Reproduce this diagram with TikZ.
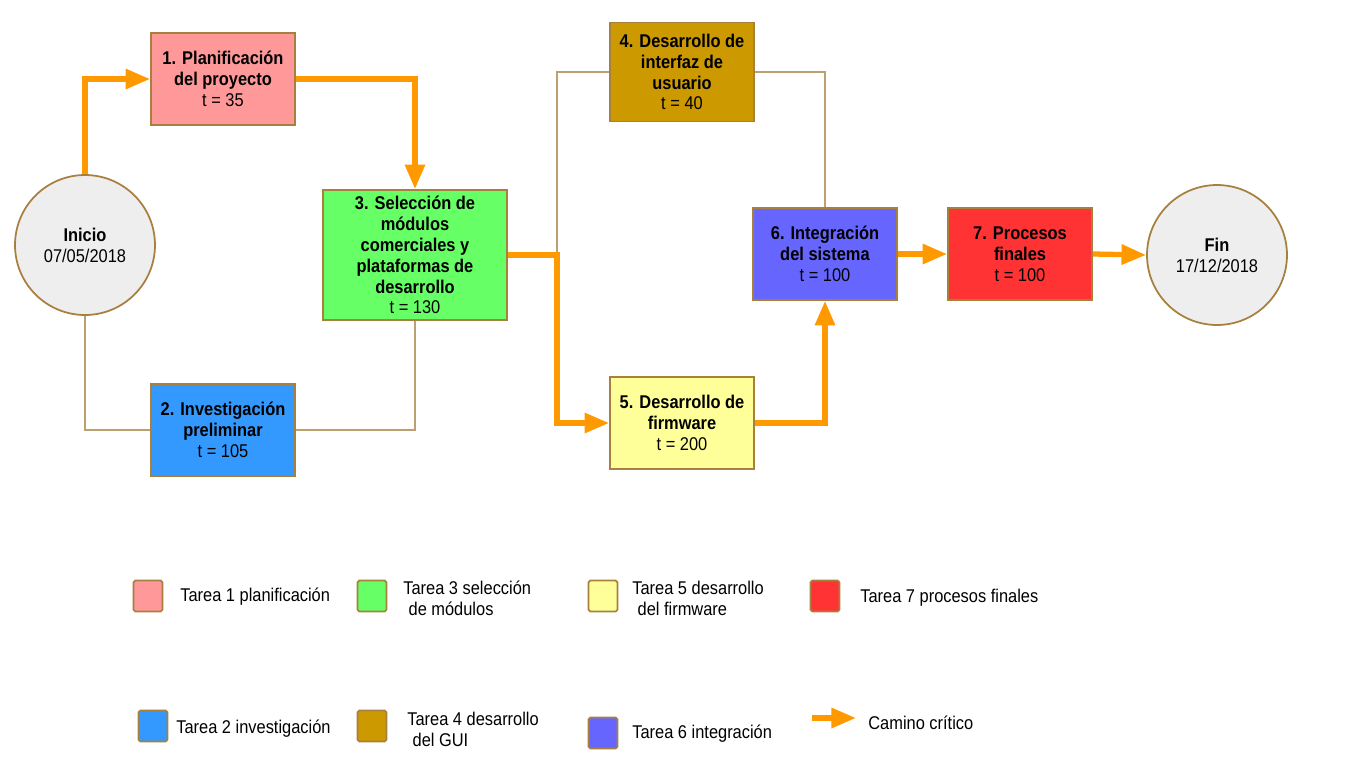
\documentclass[tikz,border=0pt]{standalone}
\usepackage{fontspec}
\setmainfont{Liberation Sans}[FakeStretch=0.89]
\usepackage{xcolor}
\usetikzlibrary{arrows.meta}

\definecolor{critorange}{HTML}{FF9900}
\definecolor{edgebrown}{HTML}{A8803E}
\definecolor{linetan}{HTML}{BCA070}
\definecolor{startgray}{HTML}{EEEEEE}
\definecolor{tpink}{HTML}{FF9999}
\definecolor{tblue}{HTML}{3399FF}
\definecolor{tgreen}{HTML}{66FF66}
\definecolor{tgold}{HTML}{CC9900}
\definecolor{tyellow}{HTML}{FFFF99}
\definecolor{tviolet}{HTML}{6666FF}
\definecolor{tred}{HTML}{FF3333}

\begin{document}
\begin{tikzpicture}[x=0.02cm, y=-0.02cm,
  font=\fontsize{10.5}{11.9}\selectfont,
  task/.style={rectangle, draw=edgebrown, line width=1pt, minimum width=2.88cm,
               minimum height=1.84cm, inner sep=1pt, align=center},
  milestone/.style={circle, draw=edgebrown, line width=1pt, fill=startgray,
                    minimum size=2.8cm, inner sep=0pt, align=center},
  crit/.style={critorange, line width=3pt,
               -{Triangle[length=14pt, width=11pt]}},
  plain/.style={linetan, line width=1.1pt},
  legbox/.style={rectangle, draw=edgebrown, line width=1pt, rounded corners=1pt,
                 minimum width=0.58cm, minimum height=0.62cm, inner sep=0pt},
  legtext/.style={anchor=west, align=left, inner sep=0pt}]

  \useasboundingbox (0,0) rectangle (1366,768);

  %% Milestones
  \node[milestone] (inicio) at (85,245) {\textbf{Inicio}\\07/05/2018};
  \node[milestone] (fin) at (1217,255) {\textbf{Fin}\\17/12/2018};

  %% Tasks
  \node[task, fill=tpink] (t1) at (223,79)
    {\textbf{1. Planificación}\\\textbf{del proyecto}\\t = 35};
  \node[task, fill=tblue] (t2) at (223,430)
    {\textbf{2. Investigación}\\\textbf{preliminar}\\t = 105};
  \node[task, fill=tgreen, minimum width=3.68cm, minimum height=2.6cm] (t3) at (415,255)
    {\textbf{3. Selección de}\\\textbf{módulos}\\\textbf{comerciales y}\\
     \textbf{plataformas de}\\\textbf{desarrollo}\\t = 130};
  \node[task, fill=tgold, minimum height=1.98cm] (t4) at (682,72)
    {\textbf{4. Desarrollo de}\\\textbf{interfaz de}\\\textbf{usuario}\\t = 40};
  \node[task, fill=tyellow] (t5) at (682,423)
    {\textbf{5. Desarrollo de}\\\textbf{firmware}\\t = 200};
  \node[task, fill=tviolet] (t6) at (825,254)
    {\textbf{6. Integración}\\\textbf{del sistema}\\t = 100};
  \node[task, fill=tred] (t7) at (1020,254)
    {\textbf{7. Procesos}\\\textbf{finales}\\t = 100};

  \coordinate (split) at (557,255);

  %% Non-critical links
  \draw[plain] (inicio.south) |- (t2.west);
  \draw[plain] (t2.east) -| (t3.south);
  \draw[plain] (split) |- (t4.west);
  \draw[plain] (t4.east) -| (t6.north);

  %% Critical path
  \draw[crit] (inicio.north) |- (t1.west);
  \draw[crit] (t1.east) -| (t3.north);
  \draw[crit] (t3.east) -- (split) |- (t5.west);
  \draw[crit] (t5.east) -| (t6.south);
  \draw[crit] (t6.east) -- (t7.west);
  \draw[crit] (t7.east) -- (fin.west);

  %% Legend
  \node[legbox, fill=tpink] (leg1) at (148,596) {};
  \node[legtext] (leg1txt) at (180,597) {Tarea 1 planificación};
  \node[legbox, fill=tgreen] (leg3) at (372,596) {};
  \node[legtext] (leg3txt) at (403,598) {Tarea 3 selección\\\hspace{3pt}de módulos};
  \node[legbox, fill=tyellow] (leg5) at (603,596) {};
  \node[legtext] (leg5txt) at (632,598) {Tarea 5 desarrollo\\\hspace{3pt}del firmware};
  \node[legbox, fill=tred] (leg7) at (825,596) {};
  \node[legtext] (leg7txt) at (860,598) {Tarea 7 procesos finales};

  \node[legbox, fill=tblue] (leg2) at (153,726) {};
  \node[legtext] (leg2txt) at (176,729) {Tarea 2 investigación};
  \node[legbox, fill=tgold] (leg4) at (372,726) {};
  \node[legtext] (leg4txt) at (407,729) {Tarea 4 desarrollo\\\hspace{3pt}del GUI};
  \node[legbox, fill=tviolet] (leg6) at (603,733) {};
  \node[legtext] (leg6txt) at (632,734) {Tarea 6 integración};

  \coordinate (legarrA) at (812,718);
  \coordinate (legarrB) at (856,718);
  \draw[crit] (legarrA) -- (legarrB);
  \node[legtext] (legarrtxt) at (868,723) {Camino crítico};

\end{tikzpicture}
\end{document}
